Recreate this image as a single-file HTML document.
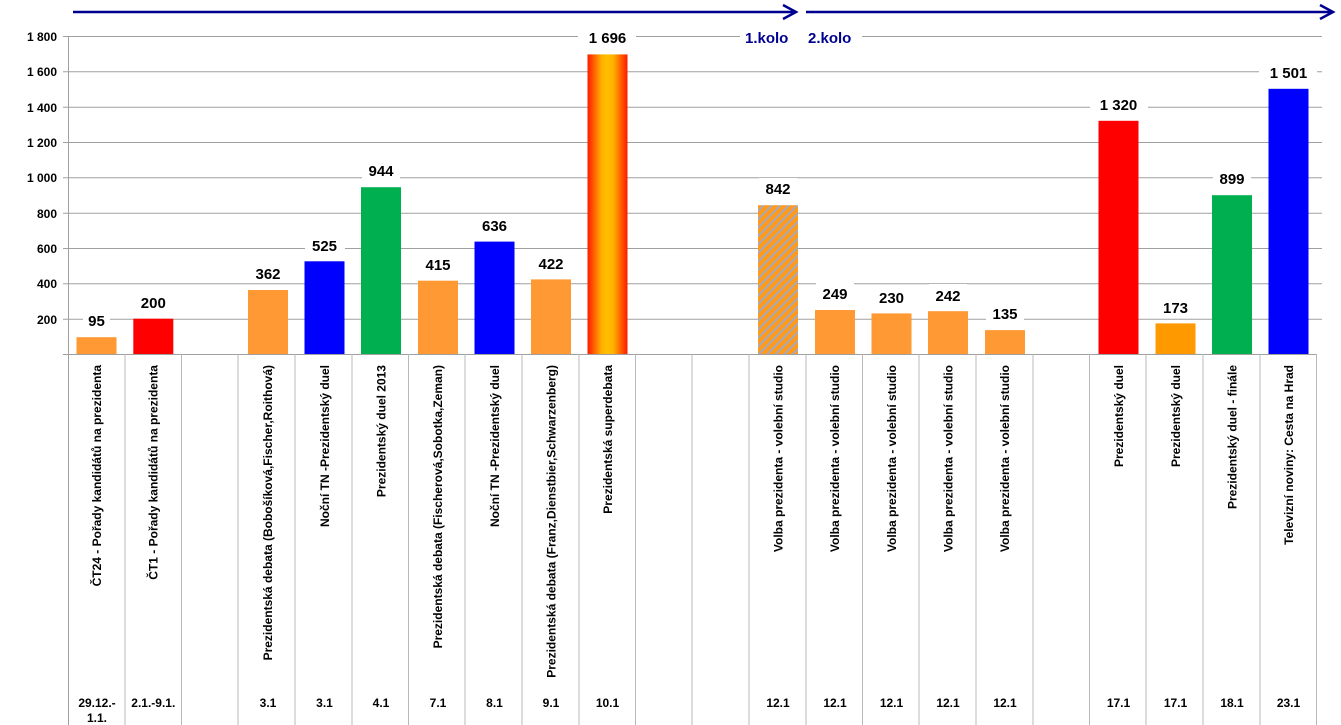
<!DOCTYPE html>
<html><head><meta charset="utf-8"><style>
html,body{margin:0;padding:0;background:#fff;width:1341px;height:725px;overflow:hidden}
svg{display:block}
.yl{font:bold 12px "Liberation Sans Narrow","Liberation Sans",sans-serif;fill:#000;text-anchor:end}
.dl{font:bold 15px "Liberation Sans",sans-serif;fill:#000;text-anchor:middle}
.cl{font:bold 12px "Liberation Sans Narrow","Liberation Sans",sans-serif;fill:#000;text-anchor:end}
.dt{font:bold 12px "Liberation Sans Narrow","Liberation Sans",sans-serif;fill:#000;text-anchor:middle}
.ko{font:bold 15px "Liberation Sans",sans-serif;fill:#000090}
</style></head><body>
<svg width="1341" height="725" xmlns="http://www.w3.org/2000/svg">
<defs>
<linearGradient id="g" x1="0" x2="1" y1="0" y2="0">
<stop offset="0" stop-color="#ff1a00"/><stop offset="0.35" stop-color="#ffb000"/><stop offset="0.5" stop-color="#ffc000"/><stop offset="0.65" stop-color="#ffb000"/><stop offset="1" stop-color="#ff1a00"/>
</linearGradient>
<pattern id="h" width="6" height="6" patternUnits="userSpaceOnUse" patternTransform="rotate(45)">
<rect width="6" height="6" fill="#ff9a1a"/><rect width="2" height="6" fill="#a8a8b8"/>
</pattern>
</defs>
<!-- arrows -->
<line x1="73" y1="12" x2="795" y2="12" stroke="#000090" stroke-width="2.5"/>
<polyline points="783,5 796,12 783,19" fill="none" stroke="#000090" stroke-width="2.5"/>
<line x1="806" y1="12" x2="1332" y2="12" stroke="#000090" stroke-width="2.5"/>
<polyline points="1320,5 1333,12 1320,19" fill="none" stroke="#000090" stroke-width="2.5"/>
<!-- grid -->
<g stroke="#a0a0a0" stroke-width="1">
<line x1="63" y1="36.5" x2="1322" y2="36.5"/>
<line x1="63" y1="71.8" x2="1322" y2="71.8"/>
<line x1="63" y1="107.2" x2="1322" y2="107.2"/>
<line x1="63" y1="142.5" x2="1322" y2="142.5"/>
<line x1="63" y1="177.8" x2="1322" y2="177.8"/>
<line x1="63" y1="213.2" x2="1322" y2="213.2"/>
<line x1="63" y1="248.5" x2="1322" y2="248.5"/>
<line x1="63" y1="283.8" x2="1322" y2="283.8"/>
<line x1="63" y1="319.2" x2="1322" y2="319.2"/>
<line x1="63" y1="354.5" x2="1317" y2="354.5"/>
<line x1="68.5" y1="36" x2="68.5" y2="725"/>
</g>
<g stroke="#b8b8b8" stroke-width="1">
<line x1="125" y1="354" x2="125" y2="725"/><line x1="181.5" y1="354" x2="181.5" y2="725"/><line x1="238" y1="354" x2="238" y2="725"/><line x1="295" y1="354" x2="295" y2="725"/><line x1="352" y1="354" x2="352" y2="725"/><line x1="408.5" y1="354" x2="408.5" y2="725"/><line x1="465" y1="354" x2="465" y2="725"/><line x1="522" y1="354" x2="522" y2="725"/><line x1="579" y1="354" x2="579" y2="725"/><line x1="635.5" y1="354" x2="635.5" y2="725"/><line x1="692" y1="354" x2="692" y2="725"/><line x1="749" y1="354" x2="749" y2="725"/><line x1="806" y1="354" x2="806" y2="725"/><line x1="862.5" y1="354" x2="862.5" y2="725"/><line x1="919" y1="354" x2="919" y2="725"/><line x1="976" y1="354" x2="976" y2="725"/><line x1="1033" y1="354" x2="1033" y2="725"/><line x1="1089.5" y1="354" x2="1089.5" y2="725"/><line x1="1146" y1="354" x2="1146" y2="725"/><line x1="1203" y1="354" x2="1203" y2="725"/><line x1="1260" y1="354" x2="1260" y2="725"/><line x1="1316.5" y1="354" x2="1316.5" y2="725"/>
</g>
<!-- y labels -->
<text class="yl" x="57" y="41">1 800</text>
<text class="yl" x="57" y="76">1 600</text>
<text class="yl" x="57" y="112">1 400</text>
<text class="yl" x="57" y="147">1 200</text>
<text class="yl" x="57" y="182">1 000</text>
<text class="yl" x="57" y="218">800</text>
<text class="yl" x="57" y="253">600</text>
<text class="yl" x="57" y="288">400</text>
<text class="yl" x="57" y="324">200</text>
<!-- bars -->
<rect x="76.5" y="337.2" width="40" height="16.8" fill="#ff9933"/>
<rect x="133.3" y="318.7" width="40" height="35.3" fill="#ff0000"/>
<rect x="248" y="290" width="40" height="64" fill="#ff9933"/>
<rect x="304.5" y="261.3" width="40" height="92.7" fill="#0000ff"/>
<rect x="361" y="187.2" width="40" height="166.8" fill="#00b050"/>
<rect x="418" y="280.7" width="40" height="73.3" fill="#ff9933"/>
<rect x="474.5" y="241.6" width="40" height="112.4" fill="#0000ff"/>
<rect x="531" y="279.4" width="40" height="74.6" fill="url(#g)" style="fill:#ff9933"/>
<rect x="587.5" y="54.4" width="40" height="299.6" fill="url(#g)"/>
<rect x="758" y="205.2" width="40" height="148.8" fill="url(#h)"/>
<rect x="815" y="310" width="40" height="44" fill="#ff9933"/>
<rect x="871.5" y="313.4" width="40" height="40.6" fill="#ff9933"/>
<rect x="928" y="311.2" width="40" height="42.8" fill="#ff9933"/>
<rect x="985" y="330.1" width="40" height="23.9" fill="#ff9933"/>
<rect x="1098.5" y="120.8" width="40" height="233.2" fill="#ff0000"/>
<rect x="1155.5" y="323.4" width="40" height="30.6" fill="#ff9900"/>
<rect x="1212" y="195.2" width="40" height="158.8" fill="#00b050"/>
<rect x="1268.5" y="88.8" width="40" height="265.2" fill="#0000ff"/>
<!-- data labels with white bg -->
<g fill="#fff">
<rect x="83" y="309" width="27" height="20"/><rect x="134" y="291" width="38" height="20"/><rect x="248" y="262" width="40" height="20"/><rect x="305" y="234" width="40" height="20"/><rect x="362" y="160" width="38" height="20"/><rect x="419" y="253" width="38" height="20"/><rect x="475" y="214" width="40" height="20"/><rect x="532" y="252" width="38" height="20"/><rect x="578" y="27" width="58" height="20"/><rect x="759" y="178" width="38" height="20"/><rect x="816" y="283" width="38" height="20"/><rect x="872" y="286" width="38" height="20"/><rect x="929" y="284" width="38" height="20"/><rect x="986" y="303" width="38" height="20"/><rect x="1090" y="94" width="58" height="20"/><rect x="1156" y="296" width="38" height="20"/><rect x="1213" y="168" width="38" height="20"/><rect x="1259" y="62" width="58" height="20"/>
<rect x="740" y="27" width="122" height="20"/>
</g>
<text class="dl" x="96.5" y="326">95</text>
<text class="dl" x="153.3" y="308">200</text>
<text class="dl" x="268" y="279">362</text>
<text class="dl" x="324.5" y="251">525</text>
<text class="dl" x="381" y="176">944</text>
<text class="dl" x="438" y="270">415</text>
<text class="dl" x="494.5" y="231">636</text>
<text class="dl" x="551" y="269">422</text>
<text class="dl" x="607.5" y="43">1 696</text>
<text class="dl" x="778" y="194">842</text>
<text class="dl" x="835" y="299">249</text>
<text class="dl" x="891.5" y="303">230</text>
<text class="dl" x="948" y="301">242</text>
<text class="dl" x="1005" y="319">135</text>
<text class="dl" x="1118.5" y="110">1 320</text>
<text class="dl" x="1175.5" y="313">173</text>
<text class="dl" x="1232" y="184">899</text>
<text class="dl" x="1288.5" y="78">1 501</text>
<text class="ko" x="745" y="43">1.kolo</text>
<text class="ko" x="808" y="43">2.kolo</text>
<!-- category labels (rotated) -->
<g>
<text class="cl" transform="translate(101,365) rotate(-90)">ČT24 - Pořady kandidátů na prezidenta</text>
<text class="cl" transform="translate(157.5,365) rotate(-90)">ČT1 - Pořady kandidátů na prezidenta</text>
<text class="cl" transform="translate(272,365) rotate(-90)">Prezidentská debata (Bobošíková,Fischer,Roithová)</text>
<text class="cl" transform="translate(329,365) rotate(-90)">Noční TN -Prezidentský duel</text>
<text class="cl" transform="translate(385.5,365) rotate(-90)">Prezidentský duel 2013</text>
<text class="cl" transform="translate(442,365) rotate(-90)">Prezidentská debata (Fischerová,Sobotka,Zeman)</text>
<text class="cl" transform="translate(499,365) rotate(-90)">Noční TN -Prezidentský duel</text>
<text class="cl" transform="translate(555.5,365) rotate(-90)">Prezidentská debata (Franz,Dienstbier,Schwarzenberg)</text>
<text class="cl" transform="translate(612,365) rotate(-90)">Prezidentská superdebata</text>
<text class="cl" transform="translate(782.5,365) rotate(-90)">Volba prezidenta - volební studio</text>
<text class="cl" transform="translate(839,365) rotate(-90)">Volba prezidenta - volební studio</text>
<text class="cl" transform="translate(896,365) rotate(-90)">Volba prezidenta - volební studio</text>
<text class="cl" transform="translate(952.5,365) rotate(-90)">Volba prezidenta - volební studio</text>
<text class="cl" transform="translate(1009,365) rotate(-90)">Volba prezidenta - volební studio</text>
<text class="cl" transform="translate(1123,365) rotate(-90)">Prezidentský duel</text>
<text class="cl" transform="translate(1180,365) rotate(-90)">Prezidentský duel</text>
<text class="cl" transform="translate(1236.5,365) rotate(-90)">Prezidentský duel - finále</text>
<text class="cl" transform="translate(1293,365) rotate(-90)">Televizní noviny: Cesta na Hrad</text>
</g>
<!-- dates -->
<text class="dt" x="97" y="707">29.12.-</text>
<text class="dt" x="97" y="722">1.1.</text>
<text class="dt" x="153.3" y="707">2.1.-9.1.</text>
<text class="dt" x="268" y="707">3.1</text>
<text class="dt" x="324.5" y="707">3.1</text>
<text class="dt" x="381" y="707">4.1</text>
<text class="dt" x="438" y="707">7.1</text>
<text class="dt" x="494.5" y="707">8.1</text>
<text class="dt" x="551" y="707">9.1</text>
<text class="dt" x="607.5" y="707">10.1</text>
<text class="dt" x="778" y="707">12.1</text>
<text class="dt" x="835" y="707">12.1</text>
<text class="dt" x="891.5" y="707">12.1</text>
<text class="dt" x="948" y="707">12.1</text>
<text class="dt" x="1005" y="707">12.1</text>
<text class="dt" x="1118.5" y="707">17.1</text>
<text class="dt" x="1175.5" y="707">17.1</text>
<text class="dt" x="1232" y="707">18.1</text>
<text class="dt" x="1288.5" y="707">23.1</text>
</svg>
</body></html>
